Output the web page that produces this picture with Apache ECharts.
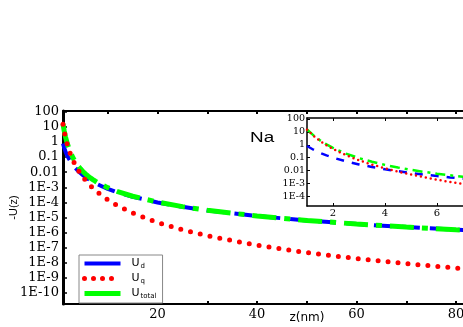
<!DOCTYPE html>
<html><head><meta charset="utf-8">
<script src="https://cdn.jsdelivr.net/npm/echarts@6/dist/echarts.min.js"></script>
<style>html,body{margin:0;padding:0;background:#fff}#c{width:463px;height:327px}</style>
</head><body><div id="c"></div>
<script>
const zValues = [1,1.25,1.5,1.75,2,2.5,3,3.5,4,4.5,5,5.5,6,6.5,7,7.5,8,9,10,12,15,20,25,30,40,50,60,70,80,85];
const uD = [0.8,0.41,0.237,0.149,0.1,0.0512,0.0296,0.0187,0.0125,0.00878,0.0064,0.00481,0.0037,0.00291,0.00233,0.0019,1.56e-3,1.1e-3,8e-4,4.63e-4,2.37e-4,1e-4,5.12e-5,2.96e-5,1.25e-5,6.4e-6,3.7e-6,2.33e-6,1.56e-6,1.3e-6];
const uQ = [15,4.92,1.975,0.913,0.469,0.1536,0.0617,0.0286,0.01465,0.00813,0.0048,0.00298,0.00193,0.00129,8.92e-4,6.32e-4,4.58e-4,2.54e-4,1.5e-4,6.03e-5,1.98e-5,4.69e-6,1.54e-6,6.17e-7,1.46e-7,4.8e-8,1.93e-8,8.92e-9,4.58e-9,3.38e-9];
const uTotal = [15.8,5.33,2.21,1.062,0.569,0.205,0.0913,0.0472,0.0272,0.0169,0.0112,0.00779,0.00563,0.0042,0.00322,0.00253,2.02e-3,1.35e-3,9.5e-4,5.23e-4,2.57e-4,1.05e-4,5.27e-5,3.02e-5,1.26e-5,6.45e-6,3.72e-6,2.34e-6,1.56e-6,1.3e-6];
const mainYTicks = [2,1,0,-1,-2,-3,-4,-5,-6,-7,-8,-9,-10];
const mainXLabels = [20,40,60,80];
const mainXTicks = [10,20,30,40,50,60,70,80];
const insetYTicks = [2,1,0,-1,-2,-3,-4];
const insetXLabels = [2,4,6];
const subs = {Ud:'d', Uq:'q', Utotal:'total'};

function pts(arr){ return zValues.map((z,i)=>[z, Math.log10(arr[i])]); }
function fmt(v){ const e=Math.round(v); return e===2?'100':e===1?'10':e===0?'1':e===-1?'0.1':e===-2?'0.01':'1E'+e; }

const chart = echarts.init(document.getElementById('c'));
const axisLine = (w)=>({show:true, onZero:false, lineStyle:{color:'#000', width:w}});
const serifLbl = {color:'#000', fontFamily:'DejaVu Serif'};

chart.setOption({
  animation:false,
  backgroundColor:'#fff',
  grid:[
    {left:63, right:-18, top:111, bottom:23, show:false, outerBoundsMode:'none', containLabel:false},
    {left:307, right:-13, top:118, bottom:121, show:true, backgroundColor:'#fff', borderWidth:0, outerBoundsMode:'none', containLabel:false}
  ],
  xAxis:[
    {type:'value', gridIndex:0, min:1, max:85, position:'bottom', axisLine:axisLine(2), splitLine:{show:false},
     axisTick:{inside:true, length:3, customValues:mainXTicks, lineStyle:{color:'#000', width:2}},
     axisLabel:{customValues:mainXLabels, fontSize:13, margin:4, ...serifLbl},
     name:'z(nm)', nameLocation:'middle', nameGap:8, nameMoveOverlap:false,
     nameTextStyle:{fontFamily:'DejaVu Sans', fontSize:12, color:'#000', padding:[0,0,0,70]}},
    {type:'value', gridIndex:0, min:1, max:85, position:'top', axisLine:axisLine(2), splitLine:{show:false},
     axisTick:{inside:true, length:3, customValues:mainXTicks, lineStyle:{color:'#000', width:2}},
     axisLabel:{show:false}},
    {type:'value', gridIndex:1, min:1, max:7.5, position:'bottom', axisLine:axisLine(1.5), splitLine:{show:false},
     axisTick:{inside:true, length:3, customValues:insetXLabels, lineStyle:{color:'#000'}},
     axisLabel:{customValues:insetXLabels, fontSize:10, margin:2, ...serifLbl}},
    {type:'value', gridIndex:1, min:1, max:7.5, position:'top', axisLine:axisLine(1.5), splitLine:{show:false},
     axisTick:{inside:true, length:3, customValues:insetXLabels, lineStyle:{color:'#000'}},
     axisLabel:{show:false}}
  ],
  yAxis:[
    {type:'value', gridIndex:0, min:-10.72, max:2.05, axisLine:axisLine(3), splitLine:{show:false},
     axisTick:{inside:true, length:4, customValues:mainYTicks, lineStyle:{color:'#000', width:1.5}},
     axisLabel:{customValues:mainYTicks, formatter:fmt, fontSize:13, margin:4, ...serifLbl},
     name:'-U(z)', nameLocation:'middle', nameGap:44, nameRotate:90, nameMoveOverlap:false,
     nameTextStyle:{fontFamily:'Liberation Sans', fontSize:11, color:'#000', padding:[0,0,0,0]}},
    {type:'value', gridIndex:1, min:-4.76, max:2.08, axisLine:axisLine(1.5), splitLine:{show:false},
     axisTick:{inside:true, length:3, customValues:insetYTicks, lineStyle:{color:'#000'}},
     axisLabel:{customValues:insetYTicks, formatter:fmt, fontSize:9.5, margin:2, ...serifLbl}}
  ],
  legend:{
    orient:'vertical', left:79, top:255, padding:[3,6,3,3], itemGap:3, itemWidth:36, itemHeight:10,
    borderColor:'#888', borderWidth:1, backgroundColor:'#fff',
    itemStyle:{opacity:0},
    data:[
      {name:'Ud', lineStyle:{type:'solid', width:4}},
      {name:'Uq', lineStyle:{type:[0,9], width:5, cap:'round'}},
      {name:'Utotal', lineStyle:{type:'solid', width:5}}
    ],
    formatter:(n)=>'{u|U}{s|'+subs[n]+'}',
    textStyle:{padding:[0,0,0,6], rich:{u:{fontFamily:'DejaVu Sans', fontSize:11, color:'#000'}, s:{fontFamily:'DejaVu Sans', fontSize:7, color:'#000', padding:[6,0,0,1]}}}
  },
  graphic:[
    {type:'text', left:250, top:131, scaleX:1.35, style:{text:'Na', fontFamily:'Liberation Sans', fontSize:14, fill:'#000'}}
  ],
  series:[
    {name:'Ud', type:'line', xAxisIndex:0, yAxisIndex:0, data:pts(uD), showSymbol:false, symbol:'none', z:2,
     lineStyle:{color:'#0000ff', width:4, type:[18,10]}, itemStyle:{color:'#0000ff'}},
    {name:'Utotal', type:'line', xAxisIndex:0, yAxisIndex:0, data:pts(uTotal), showSymbol:false, symbol:'none', z:3,
     lineStyle:{color:'#00ff00', width:5, type:[24,8,6,8]}, itemStyle:{color:'#00ff00'}},
    {name:'Uq', type:'line', xAxisIndex:0, yAxisIndex:0, data:pts(uQ), showSymbol:false, symbol:'none', z:4,
     lineStyle:{color:'#ff0000', width:5, type:[0,10], cap:'round'}, itemStyle:{color:'#ff0000'}},
    {name:'Ud', type:'line', xAxisIndex:2, yAxisIndex:1, data:pts(uD), showSymbol:false, symbol:'none', z:5,
     lineStyle:{color:'#0000ff', width:2.5, type:[8,8]}, itemStyle:{color:'#0000ff'}},
    {name:'Utotal', type:'line', xAxisIndex:2, yAxisIndex:1, data:pts(uTotal), showSymbol:false, symbol:'none', z:5,
     lineStyle:{color:'#00ff00', width:2.5, type:[10,5,3,5]}, itemStyle:{color:'#00ff00'}},
    {name:'Uq', type:'line', xAxisIndex:2, yAxisIndex:1, data:pts(uQ), showSymbol:false, symbol:'none', z:6,
     lineStyle:{color:'#ff0000', width:2.5, type:[0,5], cap:'round'}, itemStyle:{color:'#ff0000'}}
  ]
});
</script></body></html>
